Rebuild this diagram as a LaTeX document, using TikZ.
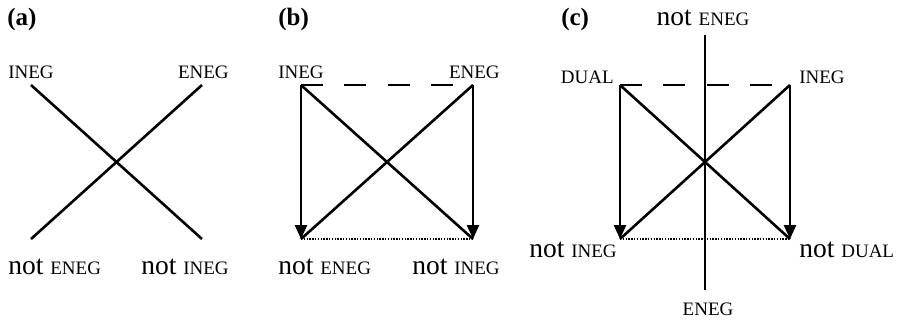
\documentclass[tikz,border=0pt]{standalone}
\usepackage{fontspec}
\setmainfont{Liberation Serif}
\usetikzlibrary{arrows.meta}
\newcommand{\capsz}[1]{{\fontsize{19}{20}\selectfont #1}}

\begin{document}
\begin{tikzpicture}[x=1pt, y=-1pt, line width=2.6pt,
    lab/.style={inner sep=0pt, font=\fontsize{19}{20}\selectfont},
    neglab/.style={inner sep=0pt, font=\fontsize{27.5}{28}\selectfont},
    panel/.style={inner sep=0pt, font=\fontsize{25}{26}\selectfont\bfseries},
    down/.style={-{Triangle[length=14pt, width=12pt]}},
    contrary/.style={dash pattern=on 22pt off 21.4pt},
    subcontrary/.style={line width=1.6pt, dash pattern=on 1.4pt off 1.4pt}]
    \useasboundingbox (0,0) rectangle (898,322);

    % (a) the plain cross
    \node[panel, anchor=base west] (pa) at (6,25) {(a)};
    \coordinate (a-tl) at (31,85);
    \coordinate (a-tr) at (202,85);
    \coordinate (a-bl) at (31,239);
    \coordinate (a-br) at (202,239);
    \node[lab, anchor=base west] (a-ineg) at (7,78) {INEG};
    \node[lab, anchor=base east] (a-eneg) at (230,78) {ENEG};
    \node[neglab, anchor=base west] (a-noteneg) at (7,274) {not \capsz{ENEG}};
    \node[neglab, anchor=base west] (a-notineg) at (140,274) {not \capsz{INEG}};
    \draw (a-tl) -- (a-br);
    \draw (a-bl) -- (a-tr);

    % (b) square with contraries and subalterns
    \node[panel, anchor=base west] (pb) at (277,25) {(b)};
    \coordinate (b-tl) at (301,85);
    \coordinate (b-tr) at (473,85);
    \coordinate (b-bl) at (301,239);
    \coordinate (b-br) at (473,239);
    \node[lab, anchor=base west] (b-ineg) at (277,78) {INEG};
    \node[lab, anchor=base east] (b-eneg) at (501,78) {ENEG};
    \node[neglab, anchor=base west] (b-noteneg) at (277,274) {not \capsz{ENEG}};
    \node[neglab, anchor=base west] (b-notineg) at (411,274) {not \capsz{INEG}};
    \draw[contrary] (b-tl) -- (b-tr);
    \draw[subcontrary] (b-bl) -- (b-br);
    \draw (b-tl) -- (b-br);
    \draw (b-bl) -- (b-tr);
    \draw[down] (b-tl) -- (b-bl);
    \draw[down] (b-tr) -- (b-br);

    % (c) square with DUAL and the ENEG axis
    \node[panel, anchor=base west] (pc) at (560,25) {(c)};
    \coordinate (c-tl) at (620,85);
    \coordinate (c-tr) at (790,85);
    \coordinate (c-bl) at (620,239);
    \coordinate (c-br) at (790,239);
    \coordinate (c-up) at (705,35);
    \coordinate (c-lo) at (705,290);
    \node[lab, anchor=base east] (c-dual) at (615,83) {DUAL};
    \node[lab, anchor=base west] (c-ineg) at (798,83) {INEG};
    \node[neglab, anchor=base east] (c-notineg) at (618,257) {not \capsz{INEG}};
    \node[neglab, anchor=base west] (c-notdual) at (798,257) {not \capsz{DUAL}};
    \node[neglab, anchor=base] (c-noteneg) at (703,25) {not \capsz{ENEG}};
    \node[lab, anchor=base] (c-eneg) at (708,315) {ENEG};
    \draw (c-up) -- (c-lo);
    \draw[contrary] (c-tl) -- (c-tr);
    \draw[subcontrary] (c-bl) -- (c-br);
    \draw (c-tl) -- (c-br);
    \draw (c-bl) -- (c-tr);
    \draw[down] (c-tl) -- (c-bl);
    \draw[down] (c-tr) -- (c-br);
\end{tikzpicture}
\end{document}
